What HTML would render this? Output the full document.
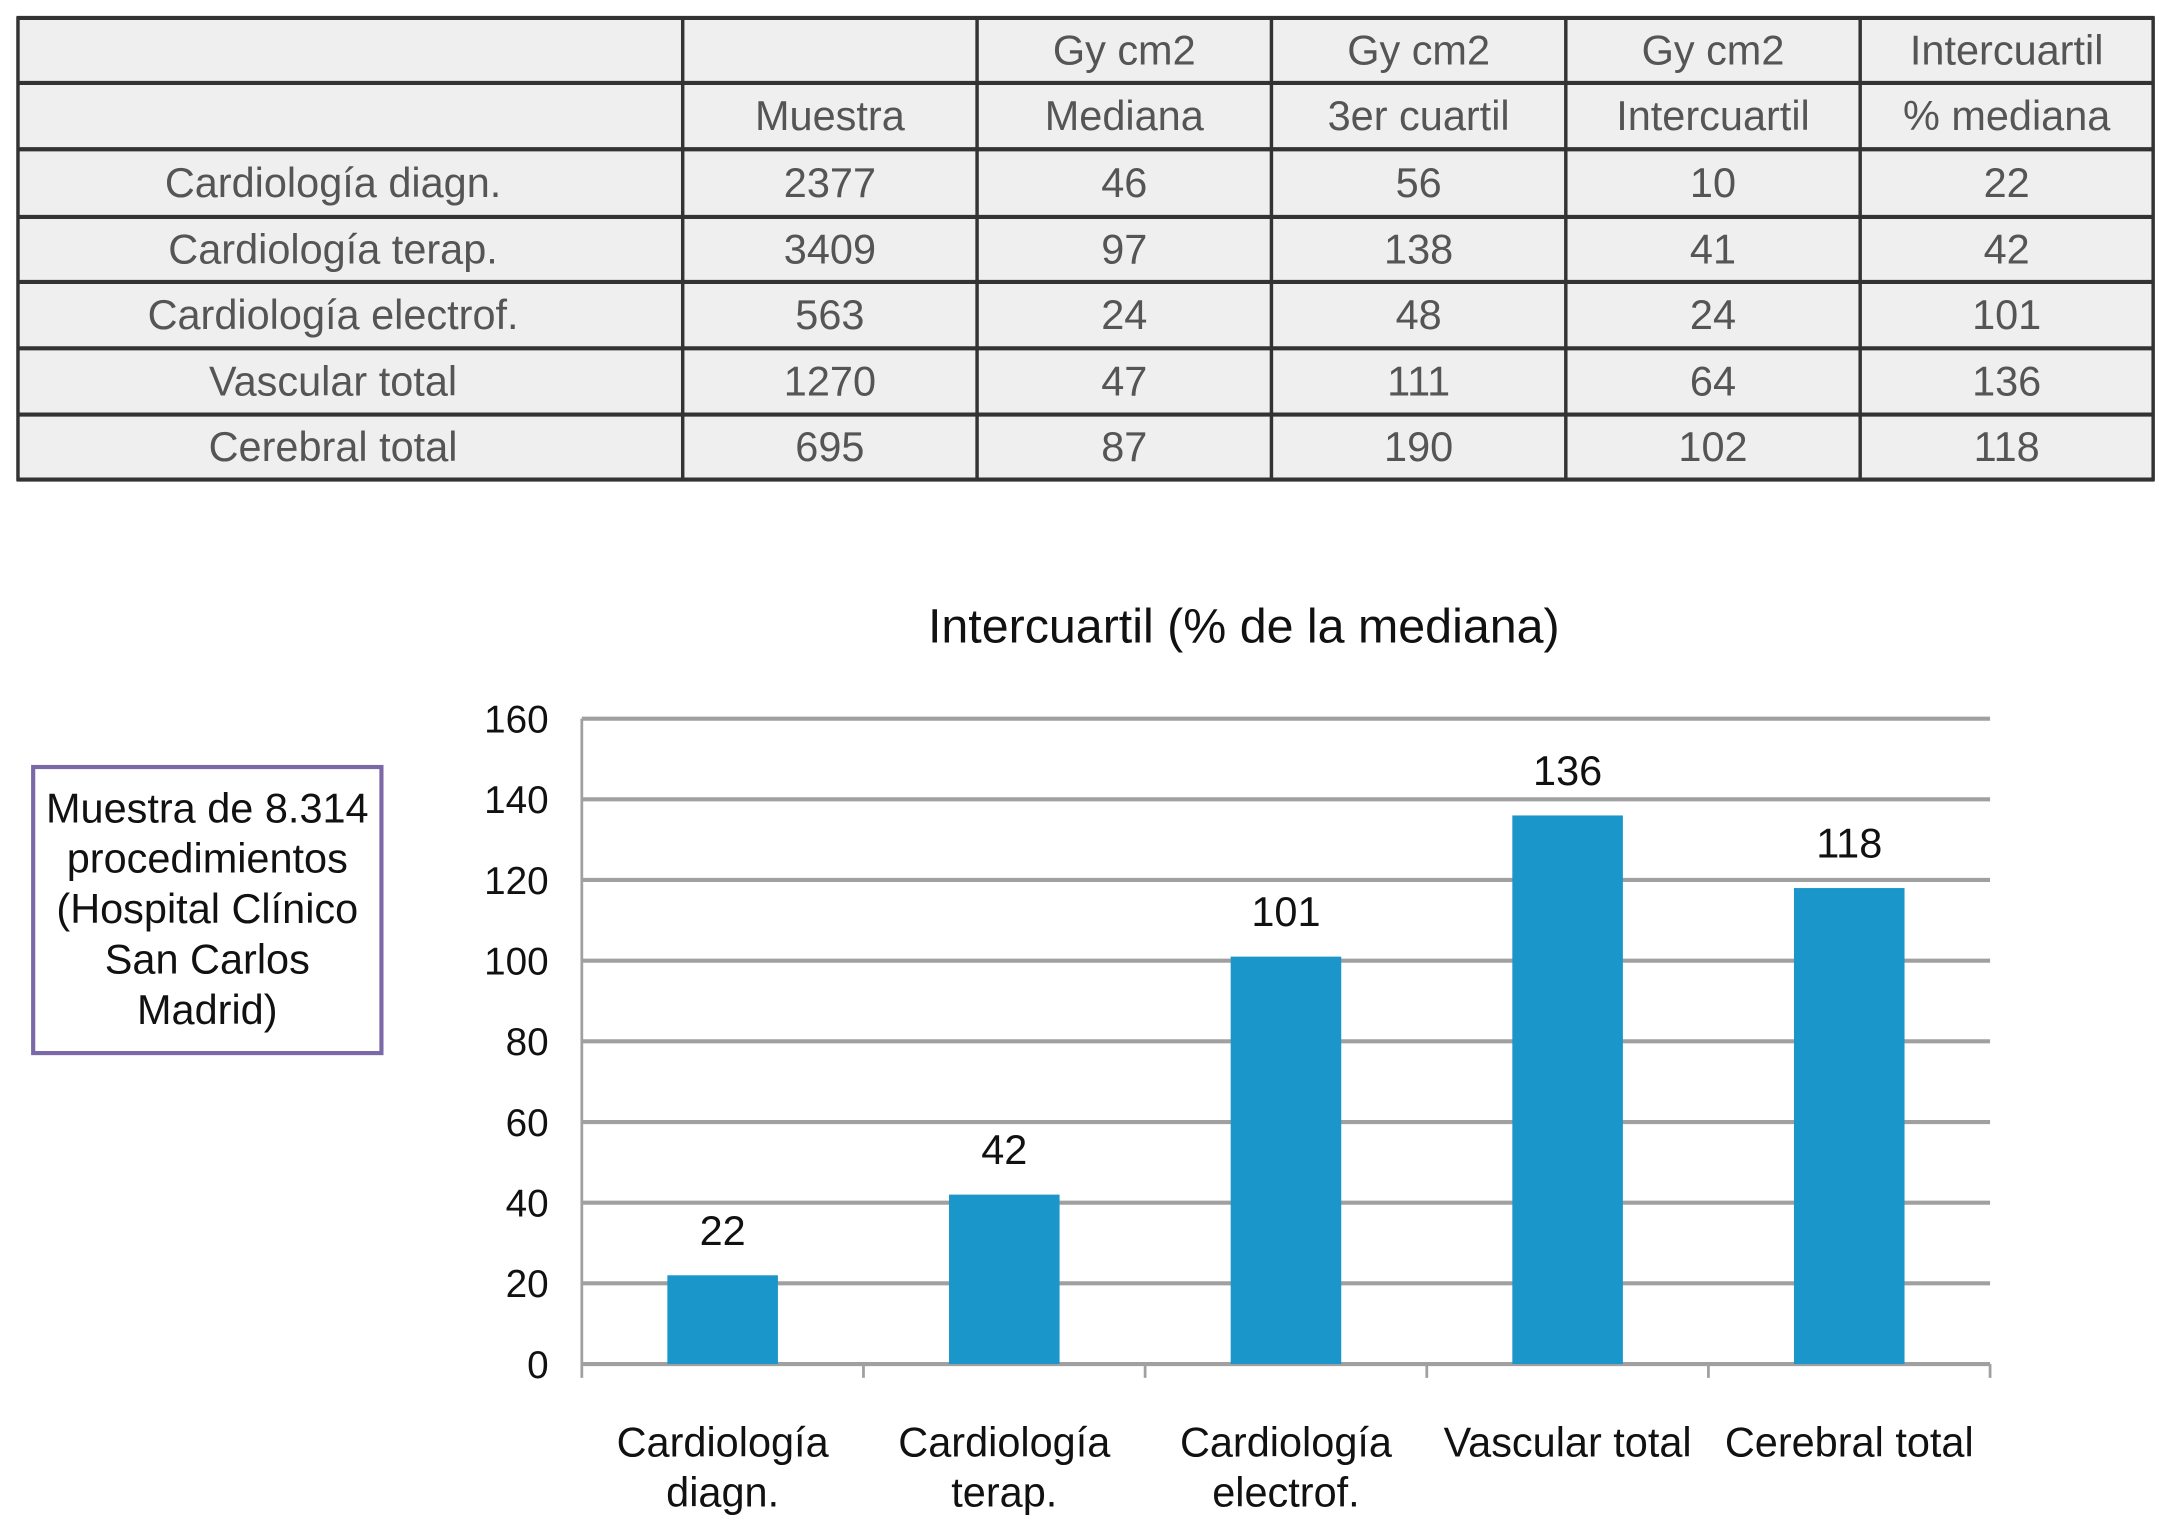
<!DOCTYPE html>
<html><head><meta charset="utf-8"><style>
html,body{margin:0;padding:0;background:#fff;width:2167px;height:1516px;overflow:hidden}
#wrap{width:1568px;height:1097px;transform:scale(1.382);transform-origin:0 0}
svg text{font-family:"Liberation Sans",Arial,sans-serif}
</style></head><body>
<div id="wrap">
<svg id="svg" width="1568" height="1097" xmlns="http://www.w3.org/2000/svg"></svg>
</div>
<script>
const categories = ["Cardiología diagn.","Cardiología terap.","Cardiología electrof.","Vascular total","Cerebral total"];
const xLabels = [["Cardiología","diagn."],["Cardiología","terap."],["Cardiología","electrof."],["Vascular total"],["Cerebral total"]];
const values = [22,42,101,136,118];
const yTicks = [0,20,40,60,80,100,120,140,160];
const headRow1 = ["","","Gy cm2","Gy cm2","Gy cm2","Intercuartil"];
const headRow2 = ["","Muestra","Mediana","3er cuartil","Intercuartil","% mediana"];
const muestra = [2377,3409,563,1270,695];
const mediana = [46,97,24,47,87];
const cuartil3 = [56,138,48,111,190];
const intercuartil = [10,41,24,64,102];
const pctMediana = [22,42,101,136,118];

const NS="http://www.w3.org/2000/svg";
const svg=document.getElementById('svg');
function el(tag,attrs,parent){const e=document.createElementNS(NS,tag);for(const k in attrs)e.setAttribute(k,attrs[k]);(parent||svg).appendChild(e);return e;}
function txt(x,y,s,size,fill,anchor,parent){const t=el('text',{x:x,y:y,'font-size':size,fill:fill,'text-anchor':anchor||'middle'},parent);t.textContent=s;return t;}

// Table
const tbl=el('g',{});


const colX=[13,494,707,920,1133,1346,1558];
const rowY=[13,60,108,157,204,252,300,347];
el('rect',{x:13,y:13,width:1545,height:334,fill:'#efefef'},tbl);
const rows=[headRow1,headRow2];
for(let i=0;i<categories.length;i++)rows.push([categories[i],muestra[i],mediana[i],cuartil3[i],intercuartil[i],pctMediana[i]]);
rows.forEach((r,ri)=>{
  r.forEach((c,ci)=>{
    let cx=(colX[ci]+colX[ci+1])/2; if(ci===0)cx=241;
    const cy=(rowY[ri]+rowY[ri+1])/2+10;
    const t=txt(cx,cy,String(c),30,'#555','middle',tbl);
    
    
  });
});
rowY.forEach(y=>el('line',{x1:12,x2:1559,y1:y,y2:y,stroke:'#333','stroke-width':3},tbl));
colX.forEach(x=>el('line',{x1:x,x2:x,y1:12,y2:348,stroke:'#333','stroke-width':2.5},tbl));

// Chart
const x0=421,x1=1440,yBase=987,yTop=520,yMax=160;
const yS=v=>yBase-(v/yMax)*(yBase-yTop);
const bw=(x1-x0)/categories.length;
const xC=i=>x0+bw*(i+0.5);

const title=txt(900,465,'Intercuartil (% de la mediana)',35,'#111');



yTicks.forEach(v=>{
  const g=el('line',{x1:x0,x2:x1,y1:yS(v),y2:yS(v),stroke:'#a0a0a0','stroke-width':3});
  
  
  const t=txt(397,yS(v)+10,String(v),28,'#111','end');
  
  
});
const ya=el('line',{x1:x0,x2:x0,y1:yTop,y2:yBase,stroke:'#a0a0a0','stroke-width':2});


for(let i=0;i<=categories.length;i++){
  const tk=el('line',{x1:x0+bw*i,x2:x0+bw*i,y1:yBase,y2:yBase+10,stroke:'#a0a0a0','stroke-width':2});
  
  
}
values.forEach((v,i)=>{
  const b=el('rect',{x:xC(i)-40,y:yS(v),width:80,height:yBase-yS(v),fill:'#1a96cb'});
  
  
  const t=txt(xC(i),yS(v)-22,String(v),30,'#111');
  
  
  xLabels[i].forEach((line,li)=>{
    const l=txt(xC(i),1054+li*36,line,30,'#111');
    
    
  });
});

// note box
const box=el('rect',{x:24,y:555,width:252,height:207,fill:'#fff',stroke:'#7b68a6','stroke-width':3});


["Muestra de 8.314","procedimientos","(Hospital Clínico","San Carlos","Madrid)"].forEach((s,i)=>{
  const t=txt(150,595+i*36.5,s,30,'#111');
  
  
});
</script>
</body></html>
